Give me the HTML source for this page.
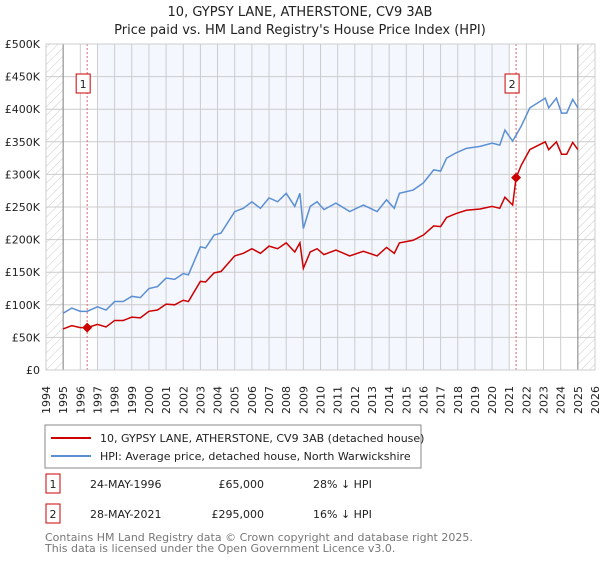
<!DOCTYPE html>
<html><head><meta charset="utf-8"><style>
body{margin:0;background:#fff;font-family:"Liberation Sans","DejaVu Sans",sans-serif;}
svg text{font-family:"DejaVu Sans","Liberation Sans",sans-serif;}
</style></head><body>
<svg id="c" width="600" height="560" xmlns="http://www.w3.org/2000/svg">
<defs><pattern id="hatch" width="6" height="6" patternUnits="userSpaceOnUse" patternTransform="rotate(45)"><line x1="0" y1="0" x2="0" y2="6" stroke="#ccc" stroke-width="1"/></pattern></defs>
<text x="300" y="16" text-anchor="middle" font-size="13" fill="#222">10, GYPSY LANE, ATHERSTONE, CV9 3AB</text>
<text x="300" y="34" text-anchor="middle" font-size="13" fill="#222">Price paid vs. HM Land Registry's House Price Index (HPI)</text>
<g id="plot"></g>
<rect x="45" y="425" width="376" height="43" fill="#fff" stroke="#888"/>
<line x1="51" y1="438" x2="91" y2="438" stroke="#cc0000" stroke-width="2"/>
<text x="100" y="442" font-size="11" fill="#222">10, GYPSY LANE, ATHERSTONE, CV9 3AB (detached house)</text>
<line x1="51" y1="456" x2="91" y2="456" stroke="#5b8fd4" stroke-width="2"/>
<text x="100" y="460" font-size="11" fill="#222">HPI: Average price, detached house, North Warwickshire</text>
<g font-size="11" fill="#222">
<rect x="46" y="474" width="14" height="19" fill="none" stroke="#cc0000"/>
<text x="53" y="488" text-anchor="middle">1</text>
<text x="90" y="488">24-MAY-1996</text>
<text x="264" y="488" text-anchor="end">£65,000</text>
<text x="313" y="488">28% ↓ HPI</text>
<rect x="46" y="504" width="14" height="19" fill="none" stroke="#cc0000"/>
<text x="53" y="518" text-anchor="middle">2</text>
<text x="90" y="518">28-MAY-2021</text>
<text x="264" y="518" text-anchor="end">£295,000</text>
<text x="313" y="518">16% ↓ HPI</text>
</g>
<text x="45" y="541" font-size="11" fill="#777">Contains HM Land Registry data © Crown copyright and database right 2025.</text>
<text x="45" y="552" font-size="11" fill="#777">This data is licensed under the Open Government Licence v3.0.</text>
</svg>
<script>
const hpiYears=[1995.0,1995.5,1996.0,1996.4,1997.0,1997.5,1998.0,1998.5,1999.0,1999.5,2000.0,2000.5,2001.0,2001.5,2002.0,2002.3,2003.0,2003.3,2003.8,2004.2,2005.0,2005.5,2006.0,2006.5,2007.0,2007.5,2008.0,2008.5,2008.8,2009.0,2009.4,2009.8,2010.2,2010.9,2011.7,2012.5,2013.3,2013.85,2014.3,2014.6,2015.4,2016.0,2016.3,2016.6,2017.0,2017.35,2017.9,2018.5,2019.3,2020.0,2020.45,2020.75,2021.2,2021.7,2022.2,2023.1,2023.3,2023.75,2024.05,2024.35,2024.7,2025.0];
const hpiValues=[87,95,90,90,97,92,105,105,113,111,125,128,141,139,148,146,189,187,207,210,243,248,258,248,264,258,271,251,271,217,251,258,246,256,243,253,243,261,248,271,276,287,297,307,305,325,333,340,343,348,345,368,351,374,402,417,402,417,394,394,415,402];
const priceYears=[1995.0,1995.5,1996.0,1996.4,1997.0,1997.5,1998.0,1998.5,1999.0,1999.5,2000.0,2000.5,2001.0,2001.5,2002.0,2002.3,2003.0,2003.3,2003.8,2004.2,2005.0,2005.5,2006.0,2006.5,2007.0,2007.5,2008.0,2008.5,2008.8,2009.0,2009.4,2009.8,2010.2,2010.9,2011.7,2012.5,2013.3,2013.85,2014.3,2014.6,2015.4,2016.0,2016.3,2016.6,2017.0,2017.35,2017.9,2018.5,2019.3,2020.0,2020.45,2020.75,2021.2,2021.4,2021.7,2022.2,2023.1,2023.3,2023.75,2024.05,2024.35,2024.7,2025.0];
const priceValues=[63,68,65,65,70,66,76,76,81,80,90,92,101,100,107,105,136,135,149,151,175,179,186,179,190,186,195,181,195,156,181,186,177,184,175,182,175,188,179,195,199,207,214,221,220,234,240,245,247,251,248,265,253,295,314,338,350,338,350,331,331,349,338];
const saleYears=[1996.4,2021.4];
const saleValues=[65,295];
const saleLabels=["1","2"];
const yTicks=[0,50,100,150,200,250,300,350,400,450,500];
const yTickLabels=["£0","£50K","£100K","£150K","£200K","£250K","£300K","£350K","£400K","£450K","£500K"];
const xTicks=[1994,1995,1996,1997,1998,1999,2000,2001,2002,2003,2004,2005,2006,2007,2008,2009,2010,2011,2012,2013,2014,2015,2016,2017,2018,2019,2020,2021,2022,2023,2024,2025,2026];

const L=46,R=595,T=44,B=370,X0=1994,X1=2026,YMAX=500;
const xs=v=>L+(v-X0)/(X1-X0)*(R-L);
const ys=v=>B-v/YMAX*(B-T);
const NS="http://www.w3.org/2000/svg";
const g=document.getElementById('plot');
function mk(tag,attrs,parent){const e=document.createElementNS(NS,tag);for(const k in attrs)e.setAttribute(k,attrs[k]);(parent||g).appendChild(e);return e;}
let e;
e=mk('rect',{x:xs(1997),y:T,width:xs(2021)-xs(1997),height:B-T,fill:'#f4f7fe'});


e=mk('rect',{x:L,y:T,width:xs(1995)-L,height:B-T,fill:'url(#hatch)'});


e=mk('rect',{x:xs(2025),y:T,width:R-xs(2025),height:B-T,fill:'url(#hatch)'});


xTicks.forEach(t=>{
 e=mk('line',{x1:xs(t),x2:xs(t),y1:T,y2:B,stroke:'#ccc','stroke-width':1});
 
 
 e=mk('text',{x:0,y:0,transform:`translate(${xs(t)+4},${B+44}) rotate(-90)`,'font-size':11,fill:'#222'});
 e.textContent=t;
 
 
});
yTicks.forEach((t,i)=>{
 e=mk('line',{x1:L,x2:R,y1:ys(t),y2:ys(t),stroke:'#ccc','stroke-width':1});
 
 
 e=mk('text',{x:L-6,y:ys(t)+4,'text-anchor':'end','font-size':11,fill:'#222'});
 e.textContent=yTickLabels[i];
 
 
});
e=mk('line',{x1:xs(1995),x2:xs(1995),y1:T,y2:B,stroke:'#888','stroke-width':1});


e=mk('line',{x1:xs(2025),x2:xs(2025),y1:T,y2:B,stroke:'#888','stroke-width':1});


saleYears.forEach((y,i)=>{
 e=mk('line',{x1:xs(y),x2:xs(y),y1:T,y2:B,stroke:'#e06666','stroke-width':1,'stroke-dasharray':'2,2'});
 
 
});
e=mk('polyline',{points:hpiYears.map((y,i)=>xs(y)+','+ys(hpiValues[i])).join(' '),fill:'none',stroke:'#5b8fd4','stroke-width':1.5});


e=mk('polyline',{points:priceYears.map((y,i)=>xs(y)+','+ys(priceValues[i])).join(' '),fill:'none',stroke:'#cc0000','stroke-width':1.5});


saleYears.forEach((y,i)=>{
 const cx=xs(y),cy=ys(saleValues[i]);
 e=mk('polygon',{points:`${cx},${cy-5} ${cx+5},${cy} ${cx},${cy+5} ${cx-5},${cy}`,fill:'#cc0000'});
 
 
 e=mk('rect',{x:cx-11,y:74,width:14,height:19,fill:'#fff',stroke:'#cc0000'});
 
 
 e=mk('text',{x:cx-4,y:88,'text-anchor':'middle','font-size':11,fill:'#222'});
 e.textContent=saleLabels[i];
 
 
});
e=mk('rect',{x:L,y:T,width:R-L,height:B-T,fill:'none',stroke:'#ccc'});


</script>
</body></html>
